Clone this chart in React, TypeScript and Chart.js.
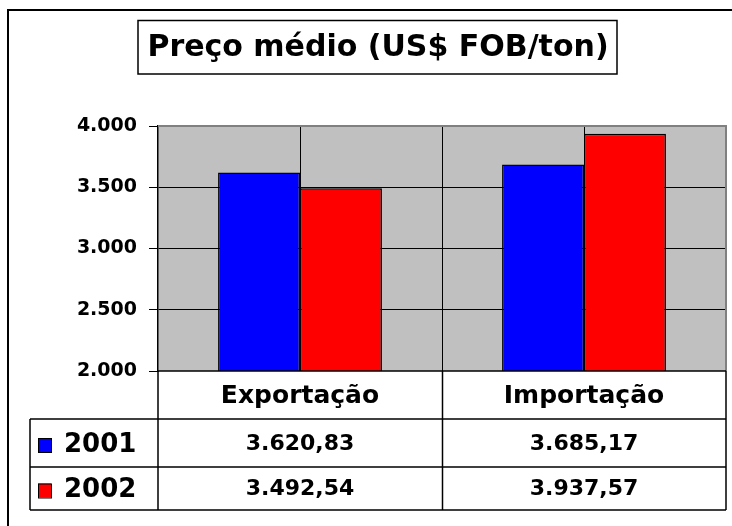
import React, { useEffect, useRef } from "react";
import { Chart, registerables } from "chart.js";

Chart.register(...registerables);

const titleText = "Preço médio (US$ FOB/ton)";
const categories = ["Exportação", "Importação"];
const seriesLabels = ["2001", "2002"];
const values2001 = [3620.83, 3685.17];
const values2002 = [3492.54, 3937.57];
const seriesColors = ["#0000FF", "#FF0000"];
const yTickValues = [2000, 2500, 3000, 3500, 4000];
const yMin = 2000;
const yMax = 4000;

const FONT = "'DejaVu Sans', Verdana, sans-serif";

function fmtThousands(v: number): string {
  return Math.round(v).toLocaleString("pt-BR");
}
function fmtValue(v: number): string {
  return v.toLocaleString("pt-BR", { minimumFractionDigits: 2, maximumFractionDigits: 2 });
}

const backgroundPlugin = {
  id: "bgPlot",
  beforeDraw(chart: any) {
    const { ctx, chartArea: a, width, height } = chart;
    ctx.save();
    ctx.fillStyle = "#FFFFFF";
    ctx.fillRect(0, 0, width, height);
    ctx.fillStyle = "#C0C0C0";
    ctx.fillRect(a.left, a.top, a.right - a.left, a.bottom - a.top);
    ctx.restore();
  },
  beforeDatasetsDraw(chart: any) {
    const { ctx, chartArea: a, scales } = chart;
    const x = scales.x;
    const n = categories.length;
    const cw = (a.right - a.left) / n;
    ctx.save();
    ctx.strokeStyle = "#000";
    ctx.lineWidth = 1;
    for (let i = 0; i < n; i++) {
      const cx = Math.round(x.getPixelForValue(i)) + 0.5;
      ctx.beginPath();
      ctx.moveTo(cx, a.top);
      ctx.lineTo(cx, a.bottom);
      ctx.stroke();
      if (i > 0) {
        const bx = Math.round(x.getPixelForValue(i) - cw / 2) + 0.5;
        ctx.beginPath();
        ctx.moveTo(bx, a.top);
        ctx.lineTo(bx, a.bottom);
        ctx.stroke();
      }
    }
    ctx.restore();
  },
};

const frameTablePlugin = {
  id: "frameTable",
  afterDraw(chart: any) {
    const { ctx, chartArea: a, scales } = chart;
    const x = scales.x;
    const n = categories.length;
    const cw = (a.right - a.left) / n;
    ctx.save();

    // plot area top/right grey border
    ctx.strokeStyle = "#808080";
    ctx.lineWidth = 2;
    ctx.beginPath();
    ctx.moveTo(a.left, a.top);
    ctx.lineTo(a.right, a.top);
    ctx.lineTo(a.right, a.bottom);
    ctx.stroke();

    // outer frame (left and top edges visible)
    ctx.strokeStyle = "#000";
    ctx.lineWidth = 2;
    ctx.beginPath();
    ctx.moveTo(8, 540);
    ctx.lineTo(8, 10);
    ctx.lineTo(760, 10);
    ctx.stroke();

    // title box
    ctx.lineWidth = 1.5;
    ctx.strokeRect(138, 20.5, 479, 53.5);
    ctx.fillStyle = "#000";
    ctx.font = `bold 30px ${FONT}`;
    ctx.textAlign = "center";
    ctx.textBaseline = "middle";
    ctx.fillText(titleText, 378, 48);

    // data table
    const tLeft = 30;
    const right = a.right;
    const r0 = a.bottom;
    const r1 = a.bottom + 48;
    const r2 = a.bottom + 96;
    const r3 = a.bottom + 139;
    ctx.strokeStyle = "#000";
    ctx.lineWidth = 1.5;
    ctx.beginPath();
    ctx.moveTo(a.left, r0);
    ctx.lineTo(right, r0);
    [r1, r2, r3].forEach((ry) => {
      ctx.moveTo(tLeft, ry);
      ctx.lineTo(right, ry);
    });
    ctx.moveTo(a.left, r0);
    ctx.lineTo(a.left, r3);
    ctx.moveTo(tLeft, r1);
    ctx.lineTo(tLeft, r3);
    ctx.moveTo(right, r0);
    ctx.lineTo(right, r3);
    for (let i = 1; i < n; i++) {
      const bx = Math.round(x.getPixelForValue(i) - cw / 2) + 0.5;
      ctx.moveTo(bx, r0);
      ctx.lineTo(bx, r3);
    }
    ctx.stroke();

    // header labels
    ctx.fillStyle = "#000";
    ctx.textAlign = "center";
    ctx.textBaseline = "middle";
    ctx.font = `bold 25px ${FONT}`;
    categories.forEach((c, i) => {
      ctx.fillText(c, x.getPixelForValue(i), (r0 + r1) / 2 + 1);
    });

    // series rows
    const rowMid = [(r1 + r2) / 2, (r2 + r3) / 2];
    const seriesValues = [values2001, values2002];
    seriesLabels.forEach((lab, s) => {
      const cy = rowMid[s];
      ctx.fillStyle = seriesColors[s];
      ctx.fillRect(38, cy - 5, 13, 14);
      ctx.strokeStyle = "#000";
      ctx.lineWidth = 1;
      ctx.strokeRect(38.5, cy - 4.5, 13, 14);
      ctx.fillStyle = "#000";
      ctx.textAlign = "left";
      ctx.font = `bold 26px ${FONT}`;
      ctx.fillText(lab, 64, cy + 2);
      ctx.textAlign = "center";
      ctx.font = `bold 22px ${FONT}`;
      seriesValues[s].forEach((v, i) => {
        ctx.fillText(fmtValue(v), x.getPixelForValue(i), cy + 1);
      });
    });

    ctx.restore();
  },
};

export default function App() {
  const ref = useRef<HTMLCanvasElement | null>(null);

  useEffect(() => {
    const canvas = ref.current;
    if (!canvas) return;
    const chart = new Chart(canvas, {
      type: "bar",
      data: {
        labels: categories,
        datasets: [
          {
            label: seriesLabels[0],
            data: values2001,
            backgroundColor: seriesColors[0],
            borderColor: "#000",
            borderWidth: 1.5,
          },
          {
            label: seriesLabels[1],
            data: values2002,
            backgroundColor: seriesColors[1],
            borderColor: "#000",
            borderWidth: 1.5,
          },
        ],
      },
      options: {
        responsive: false,
        animation: false,
        devicePixelRatio: 1,
        layout: { padding: { left: 0, top: 126, right: 6, bottom: 155 } },
        datasets: { bar: { categoryPercentage: 0.577, barPercentage: 1 } },
        plugins: {
          legend: { display: false },
          title: { display: false },
          tooltip: { enabled: false },
        },
        scales: {
          x: { display: false },
          y: {
            min: yMin,
            max: yMax,
            afterFit(scale: any) {
              scale.width = 158;
            },
            afterBuildTicks(scale: any) {
              scale.ticks = yTickValues.map((v) => ({ value: v }));
            },
            border: { display: true, color: "#000", width: 1.5 },
            grid: {
              drawTicks: true,
              tickLength: 9,
              tickColor: "#000",
              lineWidth: 1,
              color: (c: any) =>
                c.tick && (c.tick.value === yMax || c.tick.value === yMin) ? "rgba(0,0,0,0)" : "#000",
            },
            ticks: {
              color: "#000",
              padding: 12,
              font: { family: FONT, weight: "bold", size: 19 },
              callback: (v: any) => fmtThousands(Number(v)),
            },
          },
        },
      },
      plugins: [backgroundPlugin, frameTablePlugin],
    });
    return () => chart.destroy();
  }, []);

  return (
    <div style={{ position: "fixed", left: 0, top: 0, width: 732, height: 526, background: "#fff" }}>
      <canvas ref={ref} width={732} height={526} style={{ display: "block" }} />
    </div>
  );
}
